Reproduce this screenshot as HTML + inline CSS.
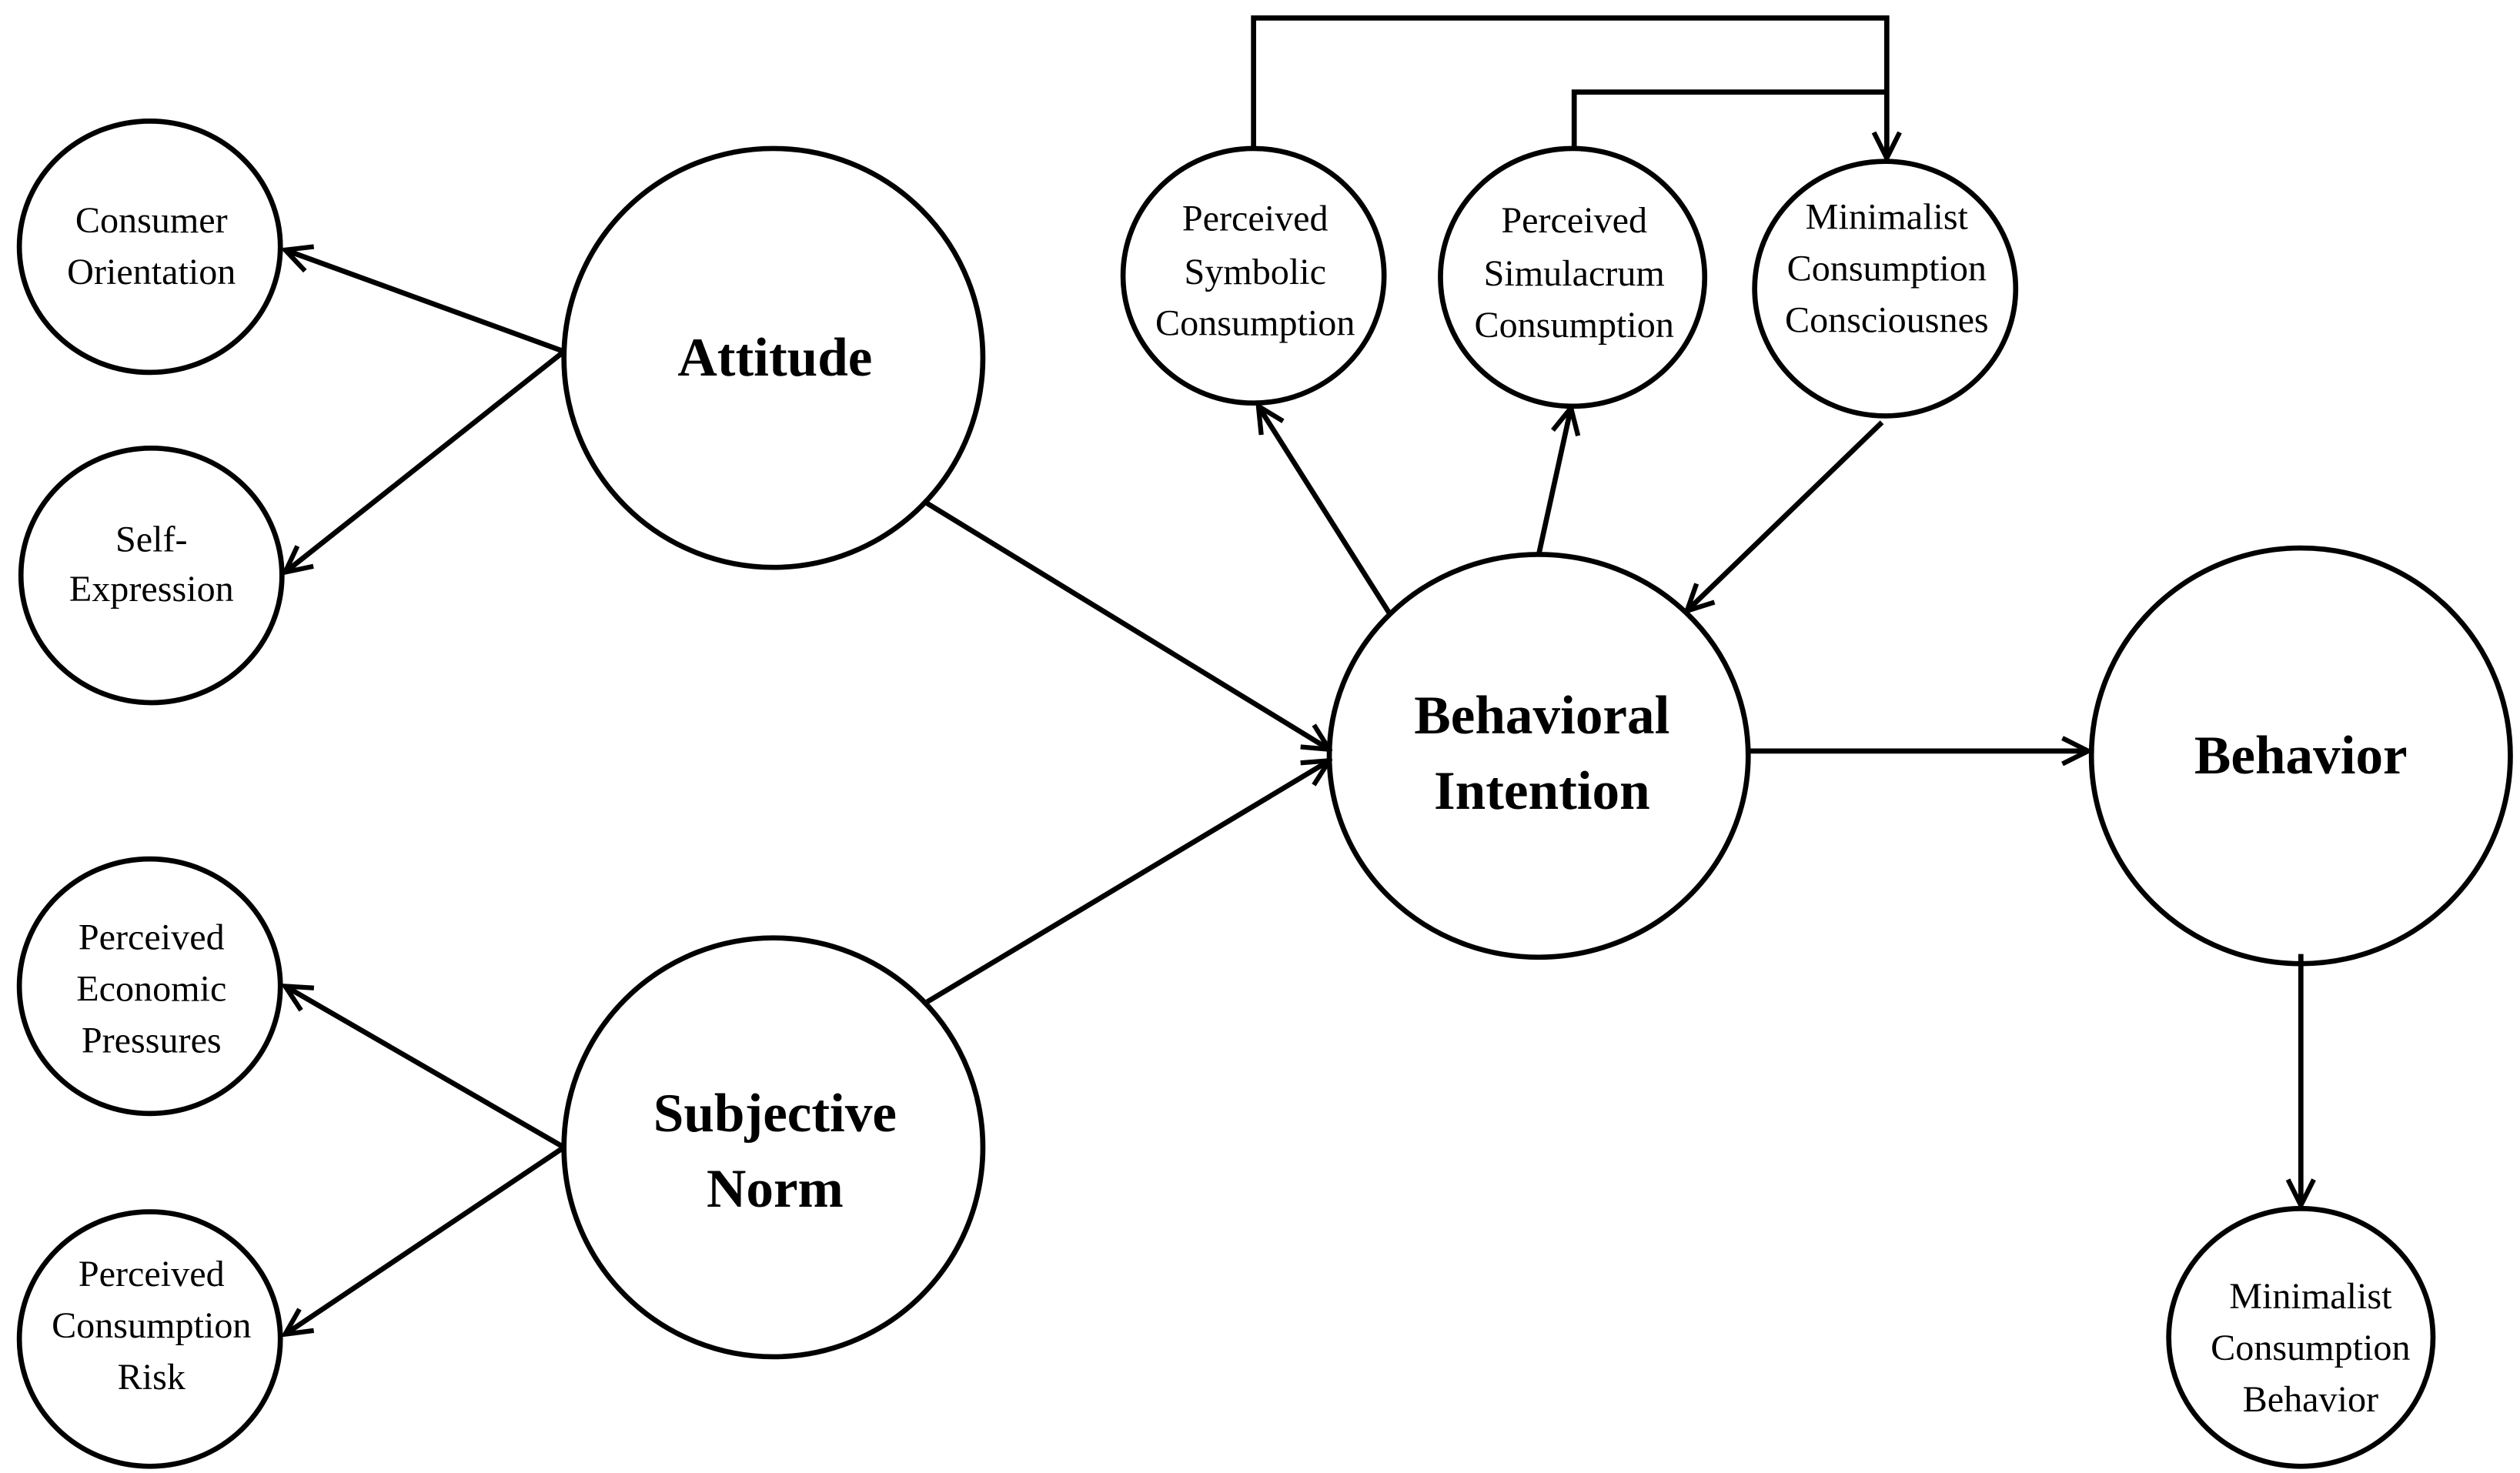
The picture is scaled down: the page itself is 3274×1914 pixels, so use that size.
<!DOCTYPE html>
<html><head><meta charset="utf-8"><style>
html,body{margin:0;padding:0;background:#fff;}
svg{display:block;}
text{font-family:"Liberation Serif",serif;fill:#000;text-anchor:middle;}
.s{font-size:23px;}
.b{font-size:34px;font-weight:bold;}
</style></head><body>
<svg width="3274" height="1914" viewBox="0 0 1564 914" xmlns="http://www.w3.org/2000/svg">
<defs>
<marker id="a" viewBox="0 0 20 20" refX="18" refY="10" markerWidth="20" markerHeight="20" markerUnits="userSpaceOnUse" orient="auto">
<path d="M2,2 L18,10 L2,18" fill="none" stroke="#000" stroke-width="3"/>
</marker>
</defs>
<g fill="none" stroke="#000" stroke-width="3.2">
<ellipse cx="93" cy="153" rx="81" ry="78"/>
<ellipse cx="94" cy="357" rx="81" ry="79"/>
<ellipse cx="480" cy="222" rx="130" ry="130"/>
<ellipse cx="93" cy="612" rx="81" ry="79"/>
<ellipse cx="480" cy="712" rx="130" ry="130"/>
<ellipse cx="93" cy="831" rx="81" ry="79"/>
<ellipse cx="778" cy="171" rx="81" ry="79"/>
<ellipse cx="976" cy="172" rx="82" ry="80"/>
<ellipse cx="1170" cy="179" rx="81" ry="79"/>
<ellipse cx="955" cy="469" rx="130" ry="125"/>
<ellipse cx="1428" cy="469" rx="130" ry="129"/>
<ellipse cx="1428" cy="830" rx="82" ry="80"/>
</g>
<g fill="none" stroke="#000" stroke-width="3.2" marker-end="url(#a)">
<line x1="350" y1="218" x2="177" y2="155"/>
<line x1="350" y1="218" x2="177" y2="355"/>
<line x1="350" y1="712" x2="177" y2="612"/>
<line x1="350" y1="712" x2="177" y2="828"/>
<line x1="575" y1="312" x2="825" y2="465"/>
<line x1="575" y1="622" x2="825" y2="472"/>
<line x1="862" y1="380" x2="781" y2="252"/>
<line x1="955" y1="344" x2="975" y2="253"/>
<line x1="1168" y1="262" x2="1047" y2="379"/>
<line x1="1085" y1="466" x2="1296" y2="466"/>
<line x1="1428" y1="592" x2="1428" y2="748"/>
<polyline points="778,92 778,11 1171,11 1171,98"/>
</g>
<polyline points="977,92 977,57 1171,57" fill="none" stroke="#000" stroke-width="3.2"/>
<text class="s" x="94" y="144">Consumer</text>
<text class="s" x="94" y="176">Orientation</text>
<text class="s" x="94" y="342">Self-</text>
<text class="s" x="94" y="373">Expression</text>
<text class="b" x="481" y="233">Attitude</text>
<text class="s" x="94" y="589">Perceived</text>
<text class="s" x="94" y="621">Economic</text>
<text class="s" x="94" y="653">Pressures</text>
<text class="b" x="481" y="702">Subjective</text>
<text class="b" x="481" y="749">Norm</text>
<text class="s" x="94" y="798">Perceived</text>
<text class="s" x="94" y="830">Consumption</text>
<text class="s" x="94" y="862">Risk</text>
<text class="s" x="779" y="143">Perceived</text>
<text class="s" x="779" y="176">Symbolic</text>
<text class="s" x="779" y="208">Consumption</text>
<text class="s" x="977" y="144">Perceived</text>
<text class="s" x="977" y="177">Simulacrum</text>
<text class="s" x="977" y="209">Consumption</text>
<text class="s" x="1171" y="142">Minimalist</text>
<text class="s" x="1171" y="174">Consumption</text>
<text class="s" x="1171" y="206">Consciousnes</text>
<text class="b" x="957" y="455">Behavioral</text>
<text class="b" x="957" y="502">Intention</text>
<text class="b" x="1428" y="480">Behavior</text>
<text class="s" x="1434" y="812">Minimalist</text>
<text class="s" x="1434" y="844">Consumption</text>
<text class="s" x="1434" y="876">Behavior</text>
</svg>
</body></html>
